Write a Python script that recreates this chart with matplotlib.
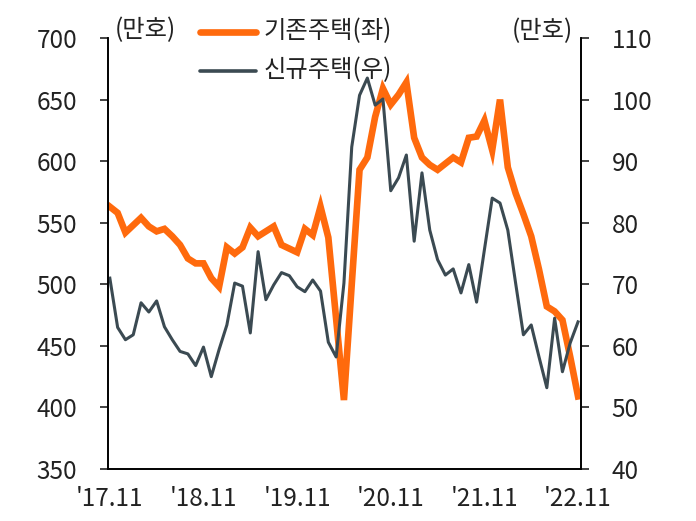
import matplotlib
matplotlib.use('Agg')
import matplotlib.pyplot as plt
from matplotlib.lines import Line2D
import numpy as np

plt.rcParams['font.family'] = ['Noto Sans CJK KR', 'DejaVu Sans']
plt.rcParams['font.weight'] = 'light'

# 월별 (17.11 ~ 22.11), 단위: 만호
existing = [563, 558, 542, 548, 554, 547, 543, 545, 539, 532,
            521, 517, 517, 505, 498, 530, 525, 530, 546, 539,
            543, 547, 532, 529, 526, 545, 540, 563, 538, 472,
            406, 500, 593, 603, 636, 659, 646, 654, 664, 619,
            603, 597, 593, 598, 603, 599, 619, 620, 633, 609,
            650, 595, 574, 557, 539, 512, 482, 478, 471, 441, 409]
new = [71.0, 63.0, 61.0, 61.8, 67.0, 65.5, 67.3, 63.1, 61.0, 59.1,
       58.7, 56.8, 59.8, 55.0, 59.4, 63.4, 70.2, 69.7, 62.1, 75.3,
       67.5, 69.9, 71.9, 71.4, 69.6, 68.8, 70.7, 68.9, 60.6, 58.2,
       70.2, 92.3, 100.7, 103.5, 99.1, 100.1, 85.2, 87.3, 91.0, 77.0,
       88.1, 78.8, 74.0, 71.5, 72.5, 68.6, 73.2, 67.1, 75.6, 84.0,
       83.2, 78.8, 70.2, 61.8, 63.4, 58.2, 53.2, 64.5, 55.8, 60.5, 63.9]
xlabels = ["'17.11", "'18.11", "'19.11", "'20.11", "'21.11", "'22.11"]

orange = '#FF6A0D'
gray = '#3B4A52'
txt = '#222222'
fs = 17.5

x = np.arange(len(existing))

fig = plt.figure(figsize=(6.96, 5.21), dpi=100)
ax = fig.add_axes([0.155, 0.0998, 0.68, 0.8272])
ax2 = ax.twinx()

ax.plot(x, existing, color=orange, lw=4.8, solid_joinstyle='miter')
ax2.plot(x, new, color=gray, lw=2.2)

ax.set_xlim(-0.25, 60.4)
ax.set_ylim(350, 700)
ax2.set_ylim(40, 110)
ax.set_yticks(np.arange(350, 701, 50))
ax2.set_yticks(np.arange(40, 111, 10))
ax.set_xticks(np.arange(0, 61, 12))
ax.set_xticklabels(xlabels)

for a in (ax, ax2):
    a.spines['top'].set_visible(False)
    a.tick_params(axis='y', length=6, width=1.2, labelsize=fs, pad=16, colors=txt)
    a.tick_params(axis='x', length=0, labelsize=fs, pad=12, colors=txt)
    for s in a.spines.values():
        s.set_linewidth(1.2)

fig.text(115 / 696, 1 - 30 / 521, '(만호)', fontsize=fs, color=txt, ha='left', va='center')
fig.text(573 / 696, 1 - 31 / 521, '(만호)', fontsize=fs, color=txt, ha='right', va='center')

# legend
fig.add_artist(Line2D([200 / 696, 256 / 696], [1 - 32 / 521] * 2, color=orange, lw=4.8,
                      solid_capstyle='round', transform=fig.transFigure))
fig.add_artist(Line2D([200 / 696, 256 / 696], [1 - 71 / 521] * 2, color=gray, lw=2.6,
                      solid_capstyle='round', transform=fig.transFigure))
fig.text(264 / 696, 1 - 31 / 521, '기존주택(좌)', fontsize=fs, color=txt, ha='left', va='center')
fig.text(264 / 696, 1 - 70 / 521, '신규주택(우)', fontsize=fs, color=txt, ha='left', va='center')

fig.savefig('out.png', dpi=100)
